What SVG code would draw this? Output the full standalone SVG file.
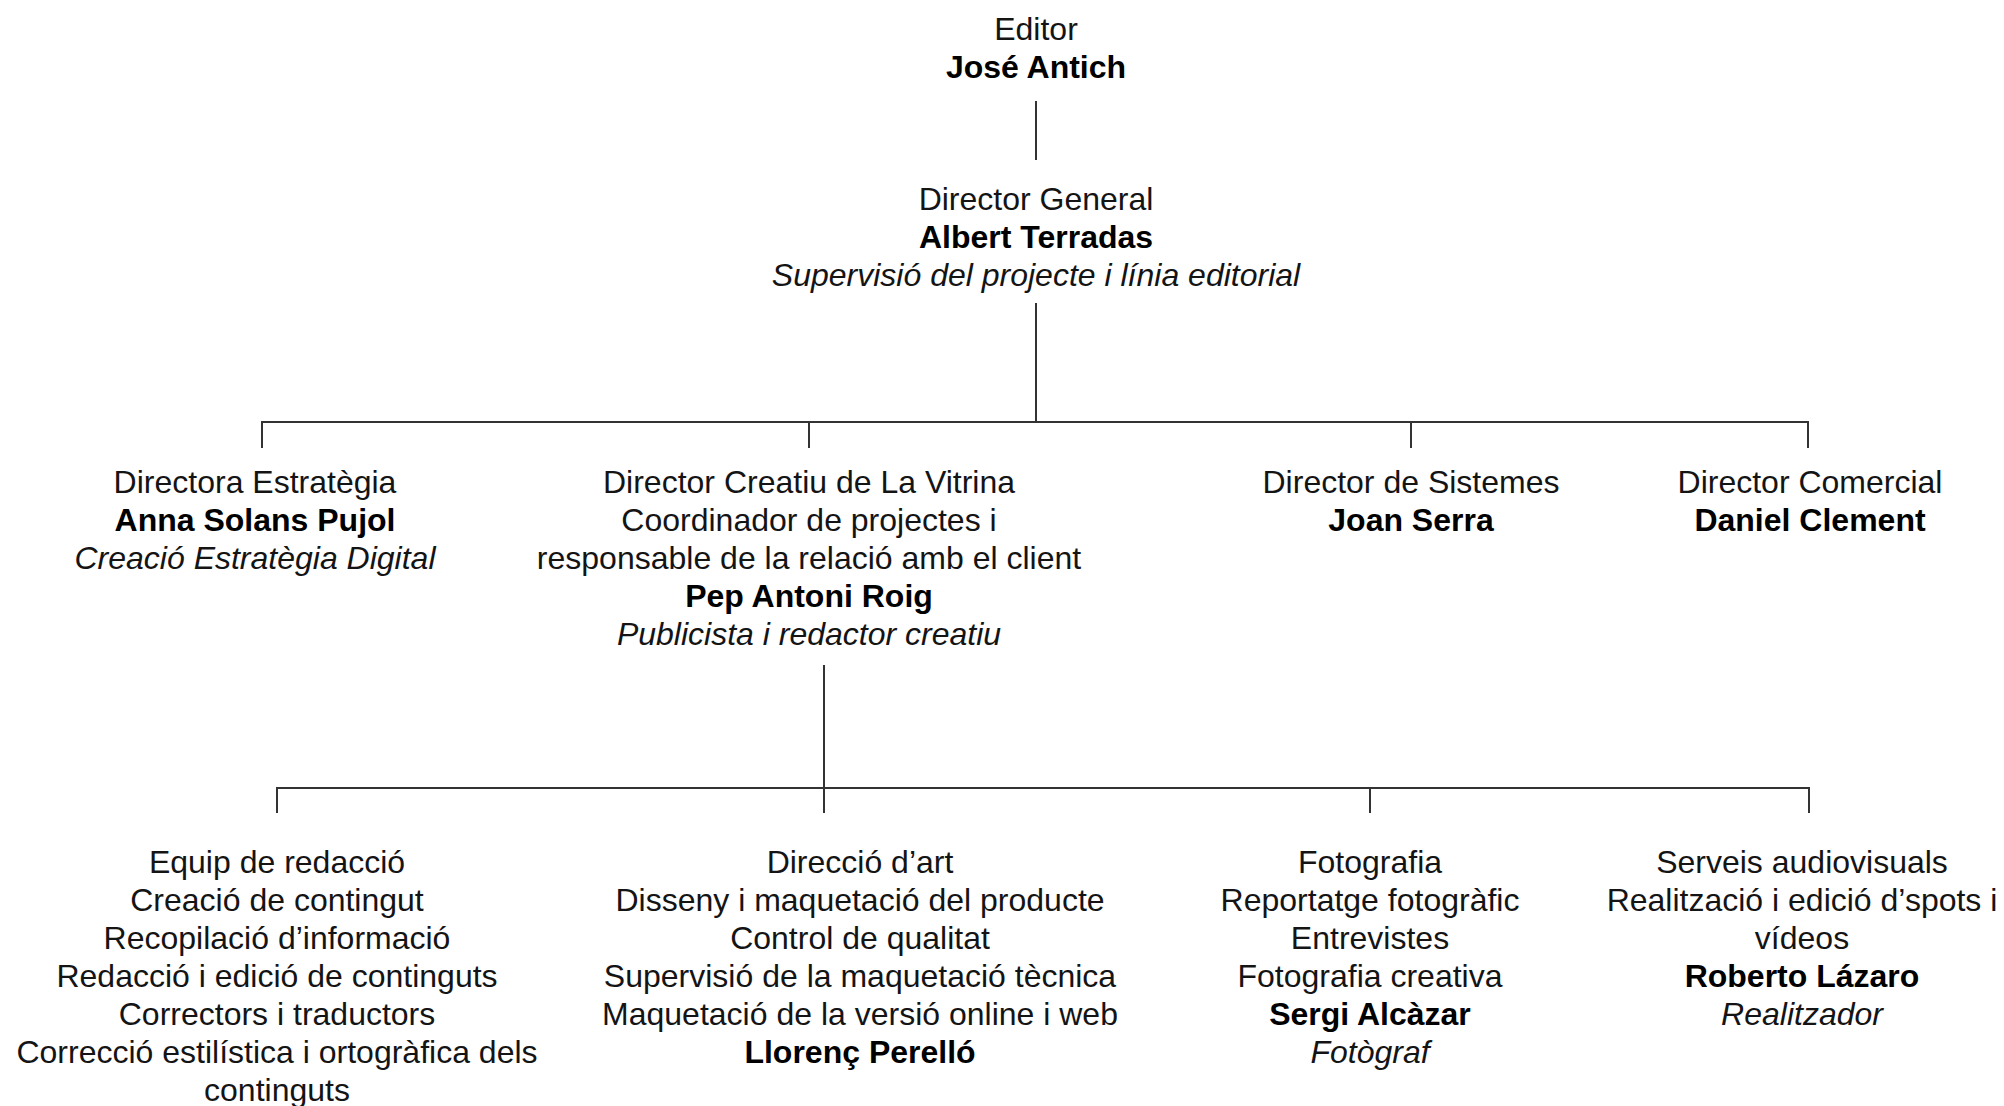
<svg xmlns="http://www.w3.org/2000/svg" width="2004" height="1106" viewBox="0 0 2004 1106">
<style>
text{font-family:"Liberation Sans",Arial,sans-serif;font-size:32px;fill:#141414;text-anchor:middle}
.b{font-weight:700;fill:#000}
.i{font-style:italic}
.c{fill:none;stroke:#333;stroke-width:2}
</style>
<rect width="2004" height="1106" fill="#fff"/>
<g id="connectors" class="c">
<path d="M1036 101V160"/>
<path d="M1036 303V422"/>
<path d="M262 448V422H1808V448"/>
<path d="M809 422V448"/>
<path d="M1411 422V448"/>
<path d="M824 665V813"/>
<path d="M277 813V788H1809V813"/>
<path d="M1370 788V813"/>
</g>
<g id="editor">
<text x="1036" y="40">Editor</text>
<text x="1036" y="78" class="b">José Antich</text>
</g>
<g id="director-general">
<text x="1036" y="210">Director General</text>
<text x="1036" y="248" class="b">Albert Terradas</text>
<text x="1036" y="286" class="i">Supervisió del projecte i línia editorial</text>
</g>
<g id="directora-estrategia">
<text x="255" y="493">Directora Estratègia</text>
<text x="255" y="531" class="b">Anna Solans Pujol</text>
<text x="255" y="569" class="i">Creació Estratègia Digital</text>
</g>
<g id="director-creatiu">
<text x="809" y="493">Director Creatiu de La Vitrina</text>
<text x="809" y="531">Coordinador de projectes i</text>
<text x="809" y="569">responsable de la relació amb el client</text>
<text x="809" y="607" class="b">Pep Antoni Roig</text>
<text x="809" y="645" class="i">Publicista i redactor creatiu</text>
</g>
<g id="director-sistemes">
<text x="1411" y="493">Director de Sistemes</text>
<text x="1411" y="531" class="b">Joan Serra</text>
</g>
<g id="director-comercial">
<text x="1810" y="493">Director Comercial</text>
<text x="1810" y="531" class="b">Daniel Clement</text>
</g>
<g id="equip-redaccio">
<text x="277" y="873">Equip de redacció</text>
<text x="277" y="911">Creació de contingut</text>
<text x="277" y="949">Recopilació d’informació</text>
<text x="277" y="987">Redacció i edició de continguts</text>
<text x="277" y="1025">Correctors i traductors</text>
<text x="277" y="1063">Correcció estilística i ortogràfica dels</text>
<text x="277" y="1101">continguts</text>
</g>
<g id="direccio-art">
<text x="860" y="873">Direcció d’art</text>
<text x="860" y="911">Disseny i maquetació del producte</text>
<text x="860" y="949">Control de qualitat</text>
<text x="860" y="987">Supervisió de la maquetació tècnica</text>
<text x="860" y="1025">Maquetació de la versió online i web</text>
<text x="860" y="1063" class="b">Llorenç Perelló</text>
</g>
<g id="fotografia">
<text x="1370" y="873">Fotografia</text>
<text x="1370" y="911">Reportatge fotogràfic</text>
<text x="1370" y="949">Entrevistes</text>
<text x="1370" y="987">Fotografia creativa</text>
<text x="1370" y="1025" class="b">Sergi Alcàzar</text>
<text x="1370" y="1063" class="i">Fotògraf</text>
</g>
<g id="serveis-audiovisuals">
<text x="1802" y="873">Serveis audiovisuals</text>
<text x="1802" y="911">Realització i edició d’spots i</text>
<text x="1802" y="949">vídeos</text>
<text x="1802" y="987" class="b">Roberto Lázaro</text>
<text x="1802" y="1025" class="i">Realitzador</text>
</g>
</svg>
